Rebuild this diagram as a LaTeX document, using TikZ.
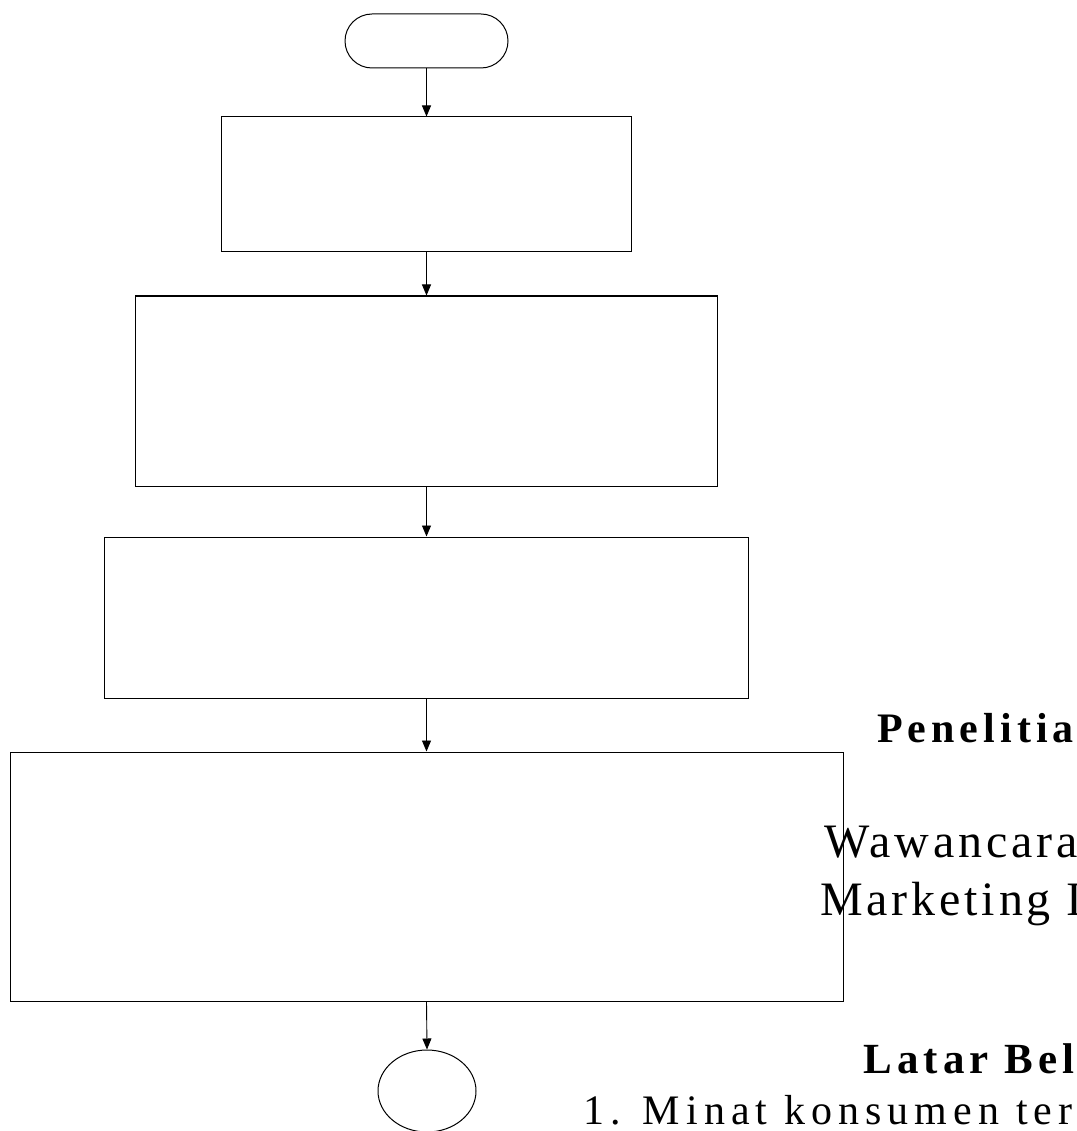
\documentclass[tikz,border=0pt]{standalone}
\usepackage{fontspec}
\usetikzlibrary{arrows.meta,shapes.geometric}
\newfontfamily\tnrA{Liberation Serif}[LetterSpace=12]
\newfontfamily\tnrB{Liberation Serif}[LetterSpace=8]
\newfontfamily\tnrC{Liberation Serif}[LetterSpace=14.5]
\tikzset{
  boxst/.style={draw=black, line width=1pt, inner sep=0pt},
  arr/.style={draw=black, line width=0.9pt, -{Triangle[width=9pt,length=11pt]}},
  txt/.style={anchor=base west, inner sep=0pt, text=black}
}
\begin{document}
\begin{tikzpicture}[x=1pt,y=-1pt]
\useasboundingbox (0,0) rectangle (1076,1131);
\clip (0,0) rectangle (1076,1131);
\fill[white] (0,0) rectangle (1076,1131);
\node[boxst, minimum width=163pt, minimum height=54pt, rounded corners=27pt] (start) at (426.5,41) {};
\node[boxst, minimum width=410pt, minimum height=135pt] (b1) at (426.5,184.5) {};
\node[boxst, minimum width=582pt, minimum height=190pt] (b2) at (426.5,391) {};
\node[boxst, minimum width=644pt, minimum height=161pt] (b3) at (426.5,617.5) {};
\node[boxst, minimum width=833pt, minimum height=249pt] (b4) at (426.5,876.5) {};
\node[boxst, ellipse, minimum width=98pt, minimum height=82pt] (end) at (427,1091) {};
\draw[arr] (start.south) -- (b1.north);
\draw[arr] (b1.south) -- (b2.north);
\draw[arr] (b2.south) -- (b3.north);
\draw[arr] (b3.south) -- (b4.north);
\draw[arr] (b4.south) -- (end.north);
\node[txt, font={\tnrA\bfseries\fontsize{42}{50}\selectfont}] (t1) at (877,742) {Penelitia};
\node[txt, font={\tnrB\fontsize{48}{57}\selectfont}] (t2) at (824,857) {Wawancara};
\node[txt, font={\tnrB\fontsize{48}{57}\selectfont}] (t3) at (820,915) {Marketing I};
\node[txt, font={\tnrA\bfseries\fontsize{43}{52}\selectfont}] (t4) at (863,1073) {Latar Bel};
\node[txt, font={\tnrC\fontsize{42}{50}\selectfont}] (t5) at (583,1124) {1. Minat konsumen ter};
\end{tikzpicture}
\end{document}
